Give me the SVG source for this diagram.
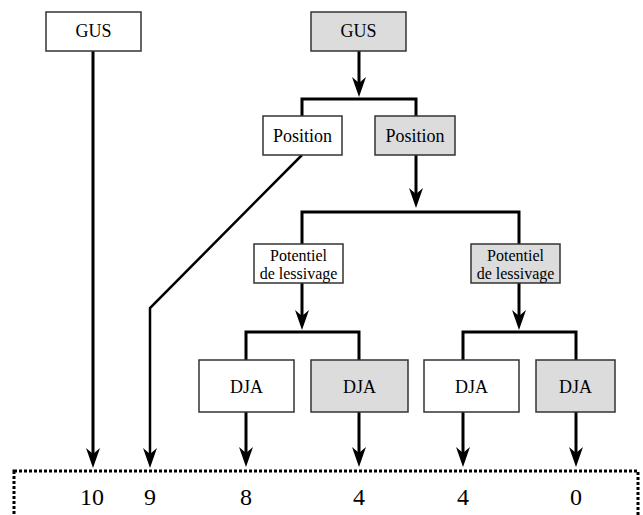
<svg xmlns="http://www.w3.org/2000/svg" width="643" height="515" viewBox="0 0 643 515">
<style>
  .box { stroke: #333; stroke-width: 1.5; }
  .w { fill: #ffffff; }
  .g { fill: #dcdcdc; }
  .t { font-family: 'Liberation Serif', 'DejaVu Serif', serif; fill: #000; text-anchor: middle; }
  .conn { fill: none; stroke: #000; stroke-width: 3; }
  .arr { marker-end: url(#ah); }
  .num { font-family: 'Liberation Serif', 'DejaVu Serif', serif; font-size: 24px; text-anchor: middle; fill: #000; }
</style>
<defs>
  <marker id="ah" markerUnits="userSpaceOnUse" viewBox="0 -8 20 16" refX="12" refY="0" markerWidth="20" markerHeight="16" orient="auto">
    <path d="M0,-7 L20,0 L0,7 L6,0 Z" fill="#000"/>
  </marker>
</defs>
<rect x="0" y="0" width="643" height="515" fill="#fff"/>

<g id="connectors">
  <path class="conn arr" d="M93,51 V460"/>
  <path class="conn arr" d="M359,51 V89"/>
  <path class="conn" d="M302,116 V99 H416 V116"/>
  <path class="conn arr" d="M302,155 L150,308 V460" style="stroke-width:2.5"/>
  <path class="conn arr" d="M416,155 V200"/>
  <path class="conn" d="M302,244 V212 H519 V244"/>
  <path class="conn arr" d="M302,283 V322"/>
  <path class="conn arr" d="M519,283 V322"/>
  <path class="conn" d="M246,360 V332 H359 V360"/>
  <path class="conn" d="M463,360 V332 H576 V360"/>
  <path class="conn arr" d="M246,412 V459"/>
  <path class="conn arr" d="M359,412 V459"/>
  <path class="conn arr" d="M463,412 V459"/>
  <path class="conn arr" d="M576,412 V459"/>
</g>

<g id="gus-left">
  <rect class="box w" x="46" y="12" width="95" height="39"/>
  <text class="t" x="93.5" y="37" font-size="18" font-family="Liberation Serif, serif">GUS</text>
</g>
<g id="gus-right">
  <rect class="box g" x="311" y="12" width="95" height="39"/>
  <text class="t" x="358.5" y="37" font-size="18">GUS</text>
</g>
<g id="position-left">
  <rect class="box w" x="263" y="116" width="79" height="39"/>
  <text class="t" x="302.5" y="142" font-size="18">Position</text>
</g>
<g id="position-right">
  <rect class="box g" x="375" y="116" width="80" height="39"/>
  <text class="t" x="415" y="142" font-size="18">Position</text>
</g>
<g id="potentiel-left">
  <rect class="box w" x="254" y="244" width="89" height="39"/>
  <text class="t" x="298.5" y="261" font-size="16">Potentiel</text>
  <text class="t" x="298.5" y="279" font-size="16">de lessivage</text>
</g>
<g id="potentiel-right">
  <rect class="box g" x="471" y="244" width="89" height="39"/>
  <text class="t" x="515.5" y="261" font-size="16">Potentiel</text>
  <text class="t" x="515.5" y="279" font-size="16">de lessivage</text>
</g>
<g id="dja-1">
  <rect class="box w" x="199" y="360" width="95" height="52"/>
  <text class="t" x="246.5" y="393" font-size="18">DJA</text>
</g>
<g id="dja-2">
  <rect class="box g" x="311" y="360" width="97" height="52"/>
  <text class="t" x="359.5" y="393" font-size="18">DJA</text>
</g>
<g id="dja-3">
  <rect class="box w" x="424" y="360" width="95" height="52"/>
  <text class="t" x="471.5" y="393" font-size="18">DJA</text>
</g>
<g id="dja-4">
  <rect class="box g" x="536" y="360" width="79" height="52"/>
  <text class="t" x="575.5" y="393" font-size="18">DJA</text>
</g>

<g id="results">
  <rect x="14" y="471" width="624" height="50" fill="none" stroke="#000" stroke-width="3" stroke-dasharray="3 2"/>
  <text class="num" x="92" y="505">10</text>
  <text class="num" x="150" y="505">9</text>
  <text class="num" x="246" y="505">8</text>
  <text class="num" x="359" y="505">4</text>
  <text class="num" x="463" y="505">4</text>
  <text class="num" x="576" y="505">0</text>
</g>
</svg>
